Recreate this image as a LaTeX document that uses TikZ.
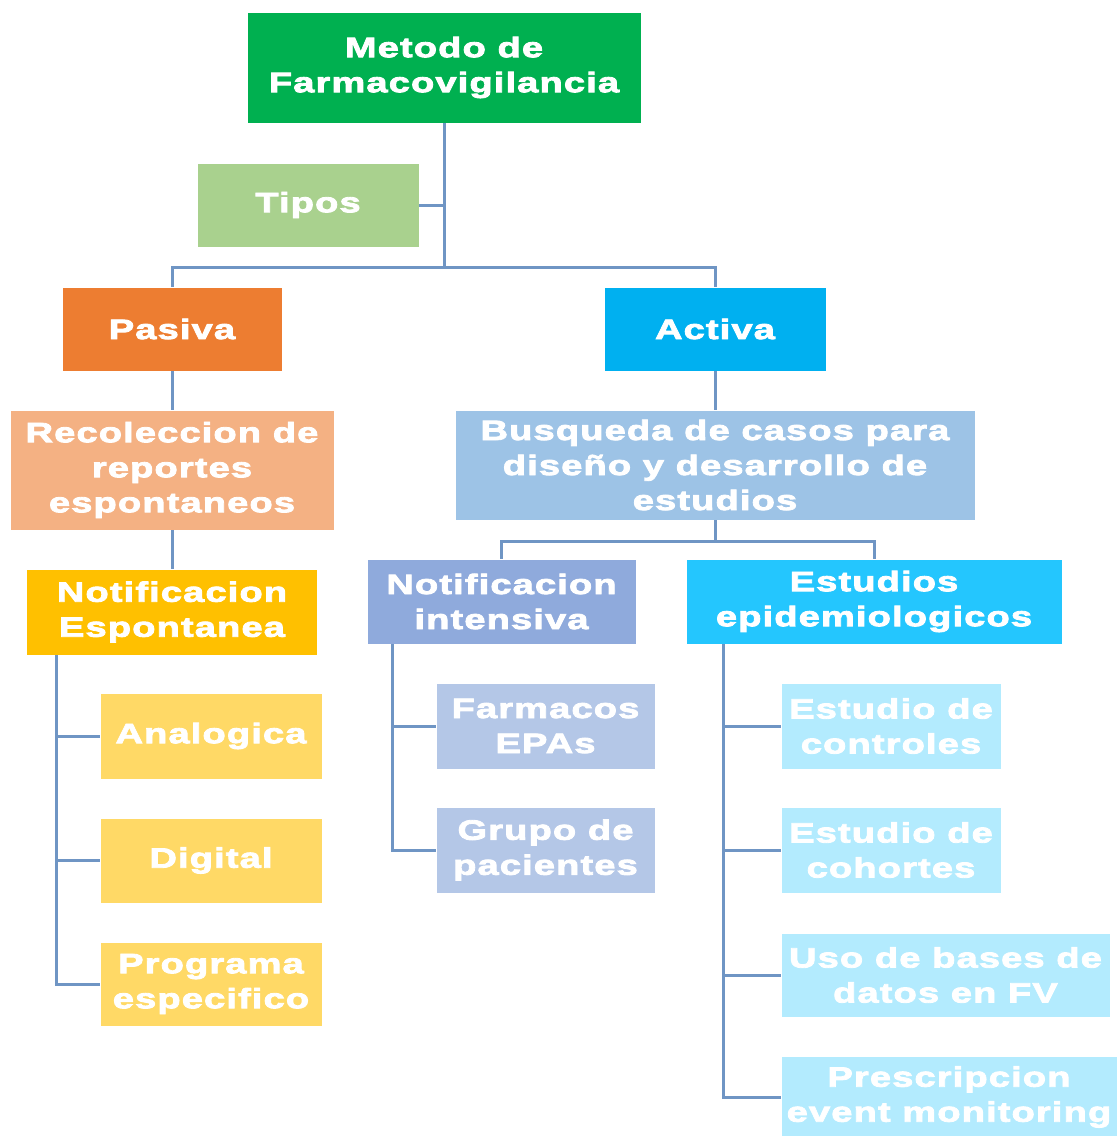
\documentclass[tikz,border=0pt]{standalone}
\usepackage{fontspec}
\setmainfont{Liberation Sans}[FakeStretch=1.36, LetterSpace=4, BoldFeatures={FakeBold=3}]
\begin{document}
\begin{tikzpicture}[x=1pt, y=-1pt,
  box/.style={rectangle, inner sep=0pt, align=center, text=white,
    font=\fontsize{28}{35}\selectfont\bfseries, draw=white, line width=0.8pt},
  conn/.style={draw=lineblue, line width=3pt}]
\definecolor{lineblue}{HTML}{6F95C4}
\definecolor{cGreen}{HTML}{00B050}
\definecolor{cTipos}{HTML}{A9D18E}
\definecolor{cPasiva}{HTML}{ED7D31}
\definecolor{cActiva}{HTML}{00B0F0}
\definecolor{cRecol}{HTML}{F4B183}
\definecolor{cNotEsp}{HTML}{FFC000}
\definecolor{cYellow}{HTML}{FFD966}
\definecolor{cBusq}{HTML}{9DC3E6}
\definecolor{cNotInt}{HTML}{8FAADC}
\definecolor{cEstud}{HTML}{24C6FE}
\definecolor{cFarm}{HTML}{B4C7E7}
\definecolor{cCyan}{HTML}{B3EBFE}

\useasboundingbox (0,0) rectangle (1119,1136);
\clip (0,0) rectangle (1119,1136);

% top level
\node[box, fill=cGreen, minimum width=394, minimum height=111] (metodo) at (444,67.5) {Metodo de\\Farmacovigilancia};
\node[box, fill=cTipos, minimum width=222, minimum height=84] (tipos) at (308,205) {Tipos};
\coordinate (bar) at (444,267);

% two branches
\node[box, fill=cPasiva, minimum width=220, minimum height=84] (pasiva) at (172,329) {Pasiva};
\node[box, fill=cActiva, minimum width=222, minimum height=84] (activa) at (715,329) {Activa};

% passive branch
\node[box, fill=cRecol, minimum width=324, minimum height=120] (recol) at (172,470) {Recoleccion de\\reportes\\espontaneos};
\node[box, fill=cNotEsp, minimum width=291, minimum height=86] (notesp) at (172,612) {Notificacion\\Espontanea};
\coordinate (railA) at (56,655);
\node[box, fill=cYellow, minimum width=222, minimum height=86] (analog) at (211,736) {Analogica};
\node[box, fill=cYellow, minimum width=222, minimum height=85] (digital) at (211,860.5) {Digital};
\node[box, fill=cYellow, minimum width=222, minimum height=84] (programa) at (211,984) {Programa\\especifico};

% active branch
\node[box, fill=cBusq, minimum width=520, minimum height=110] (busq) at (715,465) {Busqueda de casos para\\diseño y desarrollo de\\estudios};
\coordinate (barB) at (715,541);
\node[box, fill=cNotInt, minimum width=269, minimum height=85] (notint) at (501.5,601.5) {Notificacion\\intensiva};
\node[box, fill=cEstud, minimum width=376, minimum height=85] (estud) at (874,601.5) {Estudios\\epidemiologicos};
\coordinate (railB) at (392,644);
\coordinate (railC) at (723,644);
\node[box, fill=cFarm, minimum width=219, minimum height=86] (farm) at (545.5,726) {Farmacos\\EPAs};
\node[box, fill=cFarm, minimum width=219, minimum height=86] (grupo) at (545.5,850) {Grupo de\\pacientes};
\node[box, fill=cCyan, minimum width=220, minimum height=86] (ctrl) at (891,726) {Estudio de\\controles};
\node[box, fill=cCyan, minimum width=220, minimum height=86] (coh) at (891,850) {Estudio de\\cohortes};
\node[box, fill=cCyan, minimum width=329, minimum height=84] (uso) at (945.5,975) {Uso de bases de\\datos en FV};
\node[box, fill=cCyan, minimum width=336, minimum height=82] (presc) at (949,1097) {Prescripcion\\event monitoring};

% connectors
\draw[conn] (metodo.south) -- (bar);
\draw[conn] (tipos.east) -- (tipos.east -| bar);
\draw[conn] (pasiva.north) |- (bar) -| (activa.north);
\draw[conn] (pasiva.south) -- (recol.north);
\draw[conn] (recol.south) -- (notesp.north);
\draw[conn] (railA) |- (analog.west);
\draw[conn] (railA) |- (digital.west);
\draw[conn] (railA) |- (programa.west);
\draw[conn] (activa.south) -- (busq.north);
\draw[conn] (busq.south) -- (barB);
\draw[conn] (notint.north) |- (barB) -| (estud.north);
\draw[conn] (railB) |- (farm.west);
\draw[conn] (railB) |- (grupo.west);
\draw[conn] (railC) |- (ctrl.west);
\draw[conn] (railC) |- (coh.west);
\draw[conn] (railC) |- (uso.west);
\draw[conn] (railC) |- (presc.west);
\end{tikzpicture}
\end{document}
